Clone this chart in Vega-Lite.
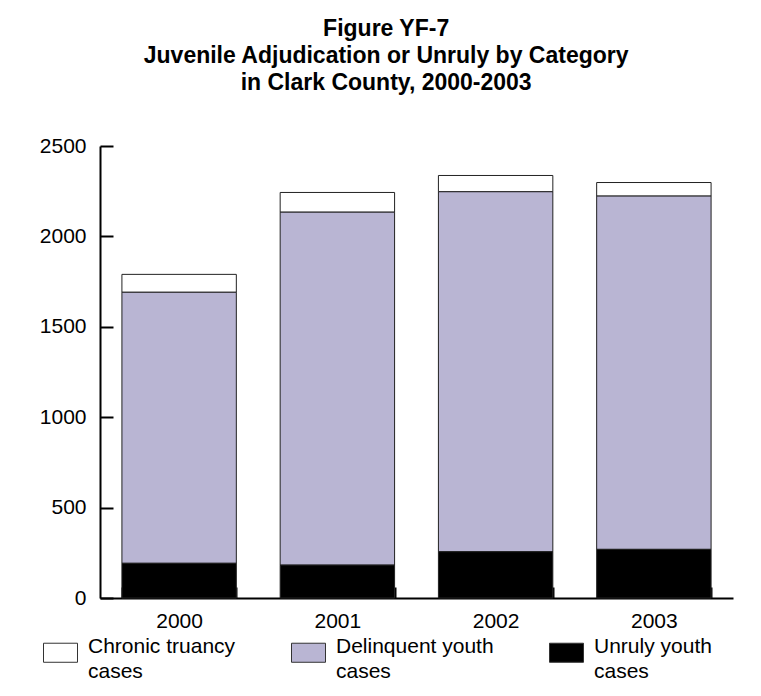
{
  "$schema": "https://vega.github.io/schema/vega-lite/v6.json",
  "width": 633,
  "height": 452,
  "autosize": {"type": "none"},
  "padding": {"left": 100, "top": 146, "right": 28, "bottom": 98},
  "background": "white",
  "config": {
    "view": {"stroke": null},
    "style": {"guide-label": {"lineHeight": 25}}
  },
  "title": {
    "text": ["Figure YF-7", "Juvenile Adjudication or Unruly by Category", "in Clark County, 2000-2003"],
    "font": "Liberation Sans",
    "fontSize": 23,
    "fontWeight": "bold",
    "lineHeight": 27,
    "frame": "bounds",
    "anchor": "middle",
    "offset": 40,
    "color": "black"
  },
  "data": {
    "values": [
      {"year": "2000", "category": "Chronic truancy cases", "cases": 99},
      {"year": "2000", "category": "Delinquent youth cases", "cases": 1499},
      {"year": "2000", "category": "Unruly youth cases", "cases": 192},
      {"year": "2001", "category": "Chronic truancy cases", "cases": 109},
      {"year": "2001", "category": "Delinquent youth cases", "cases": 1952},
      {"year": "2001", "category": "Unruly youth cases", "cases": 182},
      {"year": "2002", "category": "Chronic truancy cases", "cases": 90},
      {"year": "2002", "category": "Delinquent youth cases", "cases": 1991},
      {"year": "2002", "category": "Unruly youth cases", "cases": 256},
      {"year": "2003", "category": "Chronic truancy cases", "cases": 75},
      {"year": "2003", "category": "Delinquent youth cases", "cases": 1954},
      {"year": "2003", "category": "Unruly youth cases", "cases": 269}
    ]
  },
  "mark": {"type": "bar", "stroke": "#222", "strokeWidth": 1},
  "encoding": {
    "x": {
      "field": "year",
      "type": "ordinal",
      "scale": {"paddingInner": 0.277, "paddingOuter": 0.1385},
      "axis": {
        "title": null,
        "labelAngle": 0,
        "tickBand": "extent",
        "tickSize": -11,
        "tickWidth": 2,
        "tickColor": "black",
        "domainColor": "black",
        "domainWidth": 2,
        "labelPadding": 23,
        "labelFont": "Liberation Sans",
        "labelFontSize": 21,
        "labelColor": "black",
        "grid": false
      }
    },
    "y": {
      "field": "cases",
      "type": "quantitative",
      "stack": "zero",
      "scale": {"domain": [0, 2500]},
      "axis": {
        "title": null,
        "values": [0, 500, 1000, 1500, 2000, 2500],
        "format": "d",
        "domainColor": "black",
        "domainWidth": 2,
        "tickColor": "black",
        "tickWidth": 2,
        "tickSize": -13,
        "labelPadding": 27,
        "labelFont": "Liberation Sans",
        "labelFontSize": 21,
        "labelColor": "black",
        "grid": false
      }
    },
    "color": {
      "field": "category",
      "type": "nominal",
      "scale": {
        "domain": ["Chronic truancy cases", "Delinquent youth cases", "Unruly youth cases"],
        "range": ["#ffffff", "#b9b5d3", "#000000"]
      },
      "legend": {
        "orient": "none",
        "legendX": -57,
        "legendY": 489,
        "direction": "horizontal",
        "columns": 3,
        "title": null,
        "symbolType": "M-1,-0.56H1V0.56H-1Z",
        "symbolSize": 1156,
        "symbolStrokeColor": "#333",
        "symbolStrokeWidth": 1,
        "symbolOpacity": 1,
        "labelFont": "Liberation Sans",
        "labelFontSize": 21,
        "labelColor": "black",
        "labelLimit": 300,
        "labelOffset": 10,
        "columnPadding": 53,
        "labelBaseline": "alphabetic",
        "labelExpr": "[replace(datum.label, ' cases', ''), 'cases']"
      }
    },
    "order": {"field": "category", "sort": "descending"}
  }
}
